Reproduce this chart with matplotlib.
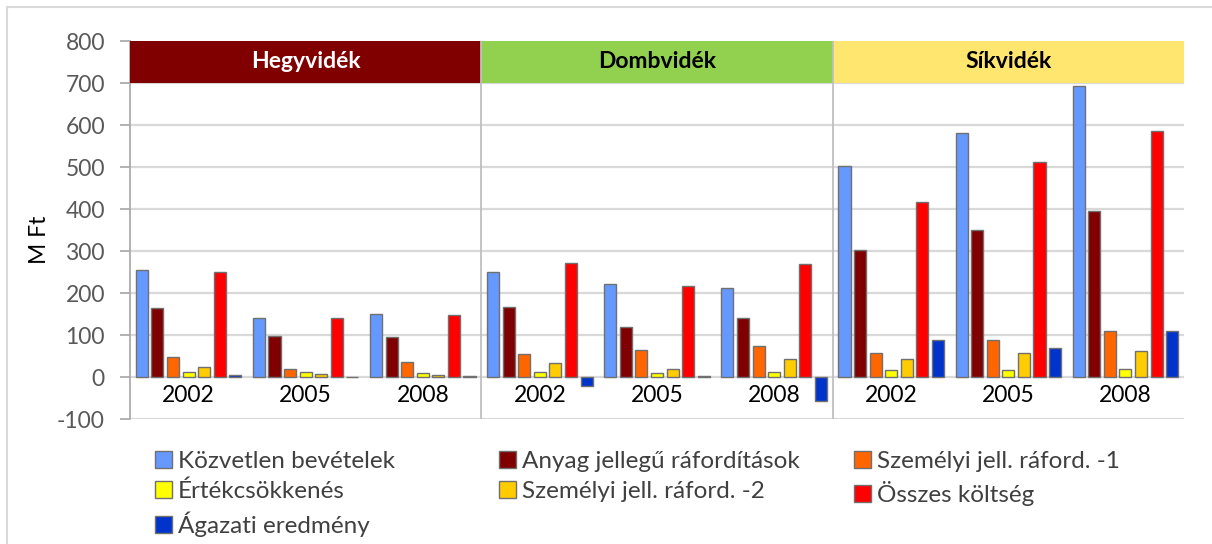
import matplotlib
matplotlib.use("Agg")
import matplotlib.pyplot as plt
from matplotlib.patches import Rectangle
import numpy as np

plt.rcParams['font.family'] = ['Lato', 'DejaVu Sans']

regions = ["Hegyvidék", "Dombvidék", "Síkvidék"]
region_colors = ["#800000", "#92D050", "#FFE66F"]
region_text_colors = ["white", "black", "black"]
years = ["2002", "2005", "2008"]

series_names = ["Közvetlen bevételek", "Anyag jellegű ráfordítások", "Személyi jell. ráford. -1",
                "Értékcsökkenés", "Személyi jell. ráford. -2", "Összes költség", "Ágazati eredmény"]
series_colors = ["#6699FF", "#800000", "#FF6600", "#FFFF00", "#FFCC00", "#FF0000", "#0033CC"]

# values: Hegyvidék 2002/2005/2008, Dombvidék 2002/2005/2008, Síkvidék 2002/2005/2008
kozvetlen = [255, 140, 151, 249, 221, 212, 503, 580, 693]
anyag = [165, 98, 96, 166, 120, 140, 302, 351, 396]
szemelyi1 = [48, 18, 36, 55, 65, 74, 56, 89, 109]
ertekcsokk = [13, 12, 9, 13, 10, 12, 16, 17, 19]
szemelyi2 = [23, 7, 4, 33, 19, 44, 43, 56, 62]
osszes = [250, 141, 148, 271, 217, 269, 416, 511, 585]
agazati = [4, -1, 2, -21, 3, -57, 89, 68, 109]

series = [kozvetlen, anyag, szemelyi1, ertekcsokk, szemelyi2, osszes, agazati]

W, H = 1212, 544
fig = plt.figure(figsize=(W / 100, H / 100), dpi=100)
ax = fig.add_axes([130 / W, 1 - 419 / H, (1184 - 130) / W, (419 - 41) / H])

ncat = len(regions) * len(years)
centers = np.arange(ncat) + 0.5
pitch = 0.133
bw = 0.103
handles = []
for j, (vals, col, name) in enumerate(zip(series, series_colors, series_names)):
    b = ax.bar(centers + (j - 3) * pitch, vals, width=bw, color=col,
               edgecolor="#707070", linewidth=1.0, label=name, zorder=3)
    handles.append(b)

ax.set_xlim(0, ncat)
ax.set_ylim(-100, 800)
yt = list(range(-100, 801, 100))
ax.set_yticks(yt)
ax.set_yticklabels([str(v) for v in yt], fontsize=16.5, color="#595959")
ax.tick_params(axis="y", length=7, color="#A6A6A6", width=1.2, pad=11)
ax.set_xticks([])
for s in ["top", "right", "bottom"]:
    ax.spines[s].set_visible(False)
ax.spines["left"].set_color("#A6A6A6")
ax.spines["left"].set_linewidth(1.2)

for v in yt:
    ax.axhline(v, color="#D9D9D9", lw=1.6, zorder=1)

# region header bands and separators
for i, (r, c, tc) in enumerate(zip(regions, region_colors, region_text_colors)):
    x0 = i * 3
    ax.add_patch(Rectangle((x0, 700), 3, 100, facecolor=c, edgecolor="none", zorder=4, clip_on=False))
    ax.text(x0 + 1.5, 752, r, ha="center", va="center", fontsize=16.5, fontweight="bold", color=tc, zorder=5)
for i in range(1, len(regions)):
    ax.plot([i * 3, i * 3], [-100, 800], color="#BFBFBF", lw=1.3, zorder=6)

# year labels
for k in range(ncat):
    ax.text(centers[k], -43, years[k % 3], ha="center", va="center", fontsize=16.5, color="black", zorder=5)

fig.text(40 / W, 1 - 240 / H, "M Ft", rotation=90, ha="center", va="center", fontsize=16.5, color="black")

# figure border
fig.add_artist(Rectangle((7 / W, -0.05), 1.2, 1 - 7 / H + 0.05, transform=fig.transFigure,
                         facecolor="none", edgecolor="#D9D9D9", lw=1.5))

# legend in three columns
cols = [[0, 3, 6], [1, 4], [2, 5]]
col_x = [155, 499, 854]
for cx, idxs in zip(col_x, cols):
    fig.legend([handles[i] for i in idxs], [series_names[i] for i in idxs],
               loc="upper left", bbox_to_anchor=(cx / W, 1 - 451 / H), frameon=False,
               fontsize=17.5, handlelength=0.7, handleheight=0.7, handletextpad=0.25,
               labelspacing=0.36, labelcolor="#404040", borderaxespad=0, borderpad=0)

fig.savefig("out.png", dpi=100)
